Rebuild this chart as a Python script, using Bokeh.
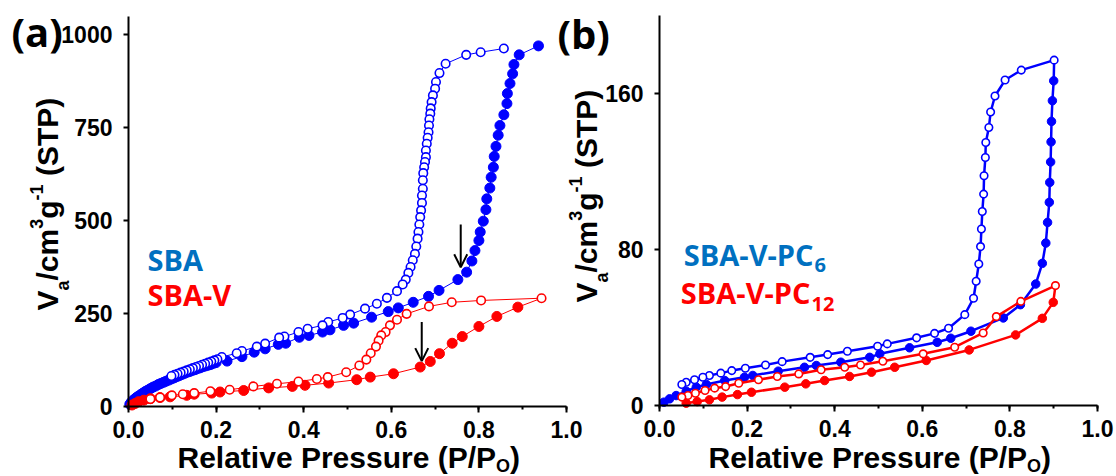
import math
from bokeh.plotting import figure
from bokeh.models import (Range1d, LinearAxis, SingleIntervalTicker,
                          NumeralTickFormatter, Label, Arrow, OpenHead)
from bokeh.embed import file_html
from bokeh.resources import INLINE

# ---------------- (a) SBA / SBA-V isotherms ----------------
sba_ads_p = [0.003, 0.006, 0.010, 0.014, 0.018, 0.023, 0.028, 0.033, 0.038, 0.044,
             0.050, 0.056, 0.062, 0.068, 0.074, 0.080, 0.086, 0.092, 0.098, 0.104,
             0.110, 0.116, 0.122, 0.128, 0.134, 0.140, 0.146, 0.152, 0.158, 0.164,
             0.170, 0.176, 0.182, 0.188, 0.194, 0.200,
             0.225, 0.259, 0.287, 0.312, 0.342, 0.359, 0.390, 0.412, 0.443, 0.460,
             0.491, 0.514, 0.555, 0.593, 0.616, 0.650, 0.685, 0.709, 0.752, 0.772,
             0.784, 0.791, 0.800, 0.803, 0.810, 0.816, 0.818, 0.825, 0.828, 0.833,
             0.835, 0.839, 0.844, 0.848, 0.857, 0.864, 0.865, 0.871, 0.877, 0.880,
             0.892, 0.936]
sba_ads_v = [6, 11, 16, 20, 24, 28, 32, 36, 40, 44,
             48, 52, 55, 59, 62, 65, 68, 71, 74, 77,
             80, 83, 86, 89, 92, 94, 97, 99, 102, 104,
             107, 109, 111, 113, 116, 118,
             122, 134, 146, 155, 167, 170, 186, 191, 200, 206,
             218, 224, 240, 255, 265, 280, 296, 312, 341, 361,
             391, 419, 446, 469, 498, 529, 558, 587, 616, 643,
             672, 699, 729, 755, 784, 814, 841, 868, 894, 919,
             945, 969]

sba_des_p = [0.857, 0.804, 0.771, 0.724, 0.710, 0.702, 0.700, 0.695, 0.692, 0.690,
             0.689, 0.687, 0.686, 0.685, 0.683, 0.681, 0.679, 0.679, 0.677, 0.675,
             0.673, 0.672, 0.672, 0.670, 0.670, 0.668, 0.666, 0.664, 0.662, 0.660,
             0.657, 0.654, 0.649, 0.644, 0.639, 0.633, 0.626, 0.613, 0.590, 0.567,
             0.540, 0.506, 0.489, 0.456, 0.443, 0.409, 0.388, 0.356, 0.344, 0.312,
             0.293, 0.259, 0.247, 0.213, 0.203, 0.196, 0.189, 0.182, 0.175, 0.168,
             0.161, 0.154, 0.147, 0.140, 0.133, 0.126, 0.119, 0.112, 0.105, 0.098]
sba_des_v = [962, 952, 945, 921, 896, 872, 854, 836, 818, 801,
             787, 772, 755, 737, 722, 706, 688, 670, 657, 643,
             627, 608, 585, 567, 547, 527, 509, 489, 469, 451,
             430, 410, 393, 375, 359, 341, 328, 310, 292, 276,
             263, 247, 238, 227, 218, 209, 200, 188, 185, 169,
             161, 149, 143, 133, 127, 124, 121, 118, 115, 112,
             109, 106, 103, 100, 97, 94, 91, 88, 85, 82]

sbav_ads_p = [0.008, 0.015, 0.023, 0.035, 0.050, 0.072, 0.095, 0.133, 0.150, 0.190,
              0.209, 0.263, 0.320, 0.374, 0.403, 0.457, 0.521, 0.552, 0.605, 0.666,
              0.689, 0.710, 0.739, 0.762, 0.800, 0.841, 0.889]
sbav_ads_v = [4, 8, 13, 17, 21, 24, 26, 30, 33, 36,
              39, 43, 50, 54, 57, 63, 72, 79, 88, 106,
              121, 142, 170, 188, 215, 242, 267]

sbav_des_p = [0.943, 0.805, 0.738, 0.686, 0.635, 0.613, 0.597, 0.587, 0.577, 0.571,
              0.565, 0.553, 0.543, 0.527, 0.497, 0.455, 0.430, 0.388, 0.339, 0.285,
              0.231, 0.187, 0.150, 0.124, 0.099, 0.072, 0.050]
sbav_des_v = [291, 285, 280, 269, 249, 233, 218, 200, 191, 177,
              161, 143, 126, 110, 92, 79, 74, 67, 61, 54,
              45, 41, 36, 33, 30, 24, 20]

# arrows marking the onset of capillary condensation in (a)
arrow_p = [0.7585, 0.6695]
arrow_from = [489, 227]
arrow_to = [374, 122]

# ---------------- (b) SBA-V-PC6 / SBA-V-PC12 isotherms ----------------
pc6_ads_p = [0.010, 0.023, 0.038, 0.061, 0.084, 0.107, 0.149, 0.194, 0.213, 0.271,
             0.331, 0.358, 0.414, 0.480, 0.503, 0.571, 0.634, 0.665, 0.711, 0.785,
             0.824, 0.859, 0.874, 0.882, 0.886, 0.890, 0.891, 0.893, 0.894, 0.895,
             0.897, 0.900]
pc6_ads_v = [1.7, 3.4, 5.1, 7.3, 9.4, 10.8, 12.8, 14.5, 15.4, 17.6,
             19.6, 20.5, 22.2, 24.7, 26.5, 29.6, 32.4, 34.5, 38.1, 44.9,
             51.7, 62.3, 72.9, 83.3, 93.9, 104.2, 114.4, 124.9, 135.2, 145.7,
             156.3, 166.5]

pc6_des_p = [0.901, 0.826, 0.789, 0.766, 0.756, 0.752, 0.745, 0.744, 0.741, 0.740,
             0.737, 0.735, 0.733, 0.729, 0.723, 0.717, 0.697, 0.660, 0.628, 0.587,
             0.520, 0.498, 0.429, 0.384, 0.344, 0.280, 0.242, 0.196, 0.165, 0.140,
             0.114, 0.099, 0.080, 0.061, 0.051]
pc6_des_v = [177.1, 172.0, 166.9, 158.7, 150.5, 142.6, 134.9, 127.2, 117.8, 108.4,
             99.5, 90.5, 81.5, 72.6, 63.7, 55.0, 46.6, 39.6, 37.0, 34.7,
             31.6, 30.4, 27.8, 26.1, 24.7, 22.5, 20.8, 19.1, 17.9, 16.6,
             15.4, 14.5, 13.2, 11.9, 10.8]

pc12_ads_p = [0.061, 0.086, 0.114, 0.143, 0.178, 0.210, 0.286, 0.334, 0.377, 0.434,
              0.484, 0.537, 0.609, 0.707, 0.813, 0.874, 0.899]
pc12_ads_v = [1.2, 2.0, 2.9, 4.3, 5.6, 6.8, 9.4, 11.1, 12.8, 14.9,
              17.1, 19.6, 23.1, 28.5, 36.2, 44.7, 52.9]

pc12_des_p = [0.904, 0.825, 0.769, 0.739, 0.674, 0.602, 0.510, 0.459, 0.423, 0.369,
              0.318, 0.269, 0.226, 0.181, 0.151, 0.126, 0.104, 0.082, 0.065, 0.051]
pc12_des_v = [61.5, 53.4, 45.6, 37.2, 29.9, 26.5, 22.7, 20.8, 19.6, 18.3,
              16.2, 14.9, 13.2, 11.4, 9.7, 8.9, 7.7, 6.3, 5.1, 4.3]

# ---------------- styling ----------------
BLUE = "#0000FF"
RED = "#FF0000"
TAG_BLUE = "#0070C0"
AX_FONT = "Liberation Sans"
TAG_FONT = "Open Sans"
# distance from the middle of a line box down to its baseline, in em
MID_TO_BASE = {AX_FONT: 0.35, TAG_FONT: 0.388}

W, H = 1116, 476
# pixel boxes of the two plotting areas: left, baseline (y=0), width, height
A_BOX = dict(left=128, base=406, w=438, h=390, xmax=1.0, ymax=1048)
B_BOX = dict(left=659, base=405, w=438, h=390, xmax=1.0, ymax=200)


def canvas_range(box):
    """Ranges that make the whole canvas the frame while keeping the panel box."""
    kx = box["xmax"] / box["w"]
    ky = box["ymax"] / box["h"]
    xr = Range1d(-box["left"] * kx, (W - box["left"]) * kx)
    yr = Range1d(-(H - box["base"]) * ky, box["base"] * ky)
    return xr, yr


a_xr, a_yr = canvas_range(A_BOX)
b_xr, b_yr = canvas_range(B_BOX)

p = figure(width=W, height=H, x_range=a_xr, y_range=a_yr,
           min_border=0, min_border_left=0, min_border_right=0,
           min_border_top=0, min_border_bottom=0,
           output_backend="svg", toolbar_location=None)
p.extra_x_ranges = {"b": b_xr}
p.extra_y_ranges = {"b": b_yr}
p.grid.visible = False
p.outline_line_color = None
p.background_fill_color = "white"
p.border_fill_color = "white"


def style_axis(ax, is_x, step):
    ax.ticker = SingleIntervalTicker(interval=step,
                                     num_minor_ticks=2 if is_x else 0)
    ax.formatter = NumeralTickFormatter(format="0.0" if is_x else "0")
    ax.axis_line_width = 2
    ax.axis_line_color = "black"
    ax.major_tick_line_width = 2
    ax.minor_tick_line_width = 2
    ax.major_tick_in = 0
    ax.minor_tick_in = 0
    ax.major_tick_out = 6 if is_x else 5
    ax.minor_tick_out = 3 if is_x else 0
    ax.major_label_standoff = 8 if is_x else 11
    ax.major_label_text_font = AX_FONT
    ax.major_label_text_font_style = "bold"
    ax.major_label_text_font_size = "23px"
    ax.major_label_text_color = "black"
    ax.fixed_location = 0


# panel (a) axes
xa = p.xaxis[0]
ya = p.yaxis[0]
style_axis(xa, True, 0.2)
style_axis(ya, False, 250)
xa.bounds = (0, A_BOX["xmax"])
ya.bounds = (0, A_BOX["ymax"])

# panel (b) axes
xb = LinearAxis(x_range_name="b", y_range_name="b")
yb = LinearAxis(x_range_name="b", y_range_name="b")
style_axis(xb, True, 0.2)
style_axis(yb, False, 80)
xb.bounds = (0, B_BOX["xmax"])
yb.bounds = (0, B_BOX["ymax"])
p.add_layout(xb, "below")
p.add_layout(yb, "left")

# advance widths of Liberation Sans Bold, per 1000 em
ADV = {" ": 278, "(": 333, ")": 333, "-": 333, "/": 278, "1": 556, "3": 556,
       "O": 778, "P": 667, "R": 722, "S": 667, "T": 611, "V": 667, "a": 556,
       "c": 556, "e": 556, "g": 611, "i": 278, "l": 278, "m": 889, "r": 389,
       "s": 556, "t": 333, "u": 611, "v": 556}


def advance(s, size):
    return sum(ADV[c] for c in s) * size / 1000.0


def put(px, py, s, size, color="black", font=AX_FONT, align="left",
        vertical=False):
    """Write s with its baseline through canvas pixel (px, py).

    For vertical text (reading upwards) px is the baseline and py the start.
    """
    shift = MID_TO_BASE[font] * size
    if vertical:
        px -= shift
    else:
        py -= shift
    x = (px - A_BOX["left"]) * A_BOX["xmax"] / A_BOX["w"]
    y = (A_BOX["base"] - py) * A_BOX["ymax"] / A_BOX["h"]
    p.add_layout(Label(x=x, y=y, text=s, text_font=font,
                       text_font_style="bold", text_font_size=f"{size}px",
                       text_color=color, text_align=align,
                       text_baseline="middle",
                       angle=math.pi / 2 if vertical else 0.0))


def y_title(base_x, start_y):
    # V_a/cm^3 g^-1 (STP), written upwards with sub- and superscripts
    pieces = [("V", 30, 0), ("a", 18, 12), ("/cm", 30, 0), ("3", 18, -15),
              ("g", 30, 0), ("-1", 18, -15), (" ", 30, None), ("(STP)", 30, 0)]
    pos = start_y
    for s, size, shift in pieces:
        if shift is not None:
            put(base_x + shift, pos, s, size, vertical=True)
        pos -= advance(s, size)


def x_title(start_x, base_y):
    # Relative Pressure (P/P_O)
    pieces = [("Relative Pressure (P/P", 30, 0), ("O", 18, 5), (")", 30, 0)]
    pos = start_x
    for s, size, shift in pieces:
        put(pos, base_y + shift, s, size)
        pos += advance(s, size)


def isotherm(ads_p, ads_v, des_p, des_v, color, lw, fsize, osize, close_loop,
             rng):
    kw = {} if rng is None else dict(x_range_name=rng, y_range_name=rng)
    line_p = ads_p + ([des_p[0]] if close_loop else [])
    line_v = ads_v + ([des_v[0]] if close_loop else [])
    p.line(line_p, line_v, line_color=color, line_width=lw, **kw)
    p.line(des_p, des_v, line_color=color, line_width=lw, **kw)
    p.scatter(ads_p, ads_v, marker="circle", size=fsize, fill_color=color,
              line_color=color, line_width=1, **kw)
    p.scatter(des_p, des_v, marker="circle", size=osize, fill_color="white",
              line_color=color, line_width=1.6, **kw)


# ---------------- panel (a) ----------------
isotherm(sba_ads_p, sba_ads_v, sba_des_p, sba_des_v, BLUE, 1, 10, 8.5, False,
         None)
isotherm(sbav_ads_p, sbav_ads_v, sbav_des_p, sbav_des_v, RED, 1, 10, 8.5, True,
         None)
for xp, y0, y1 in zip(arrow_p, arrow_from, arrow_to):
    p.add_layout(Arrow(end=OpenHead(size=13, line_width=2, line_color="black"),
                       x_start=xp, y_start=y0, x_end=xp, y_end=y1,
                       line_width=2, line_color="black"))
put(11, 47, "(a)", 40, font=TAG_FONT)
put(147, 270, "SBA", 29, color=TAG_BLUE, font=TAG_FONT)
put(147, 305, "SBA-V", 29, color=RED, font=TAG_FONT)
y_title(57, 310)
x_title(177, 467)

# ---------------- panel (b) ----------------
isotherm(pc6_ads_p, pc6_ads_v, pc6_des_p, pc6_des_v, BLUE, 2.5, 8.5, 7.5, True,
         "b")
isotherm(pc12_ads_p, pc12_ads_v, pc12_des_p, pc12_des_v, RED, 2.5, 8.5, 7.5,
         True, "b")
put(557, 49, "(b)", 40, font=TAG_FONT)
put(813, 265, "SBA-V-PC", 29, color=TAG_BLUE, font=TAG_FONT, align="right")
put(814, 272, "6", 20, color=TAG_BLUE, font=TAG_FONT)
put(810, 303, "SBA-V-PC", 29, color=RED, font=TAG_FONT, align="right")
put(811, 311, "12", 20, color=RED, font=TAG_FONT)
y_title(596, 302)
x_title(708, 467)

open("out.html", "w").write(file_html(p, INLINE))
